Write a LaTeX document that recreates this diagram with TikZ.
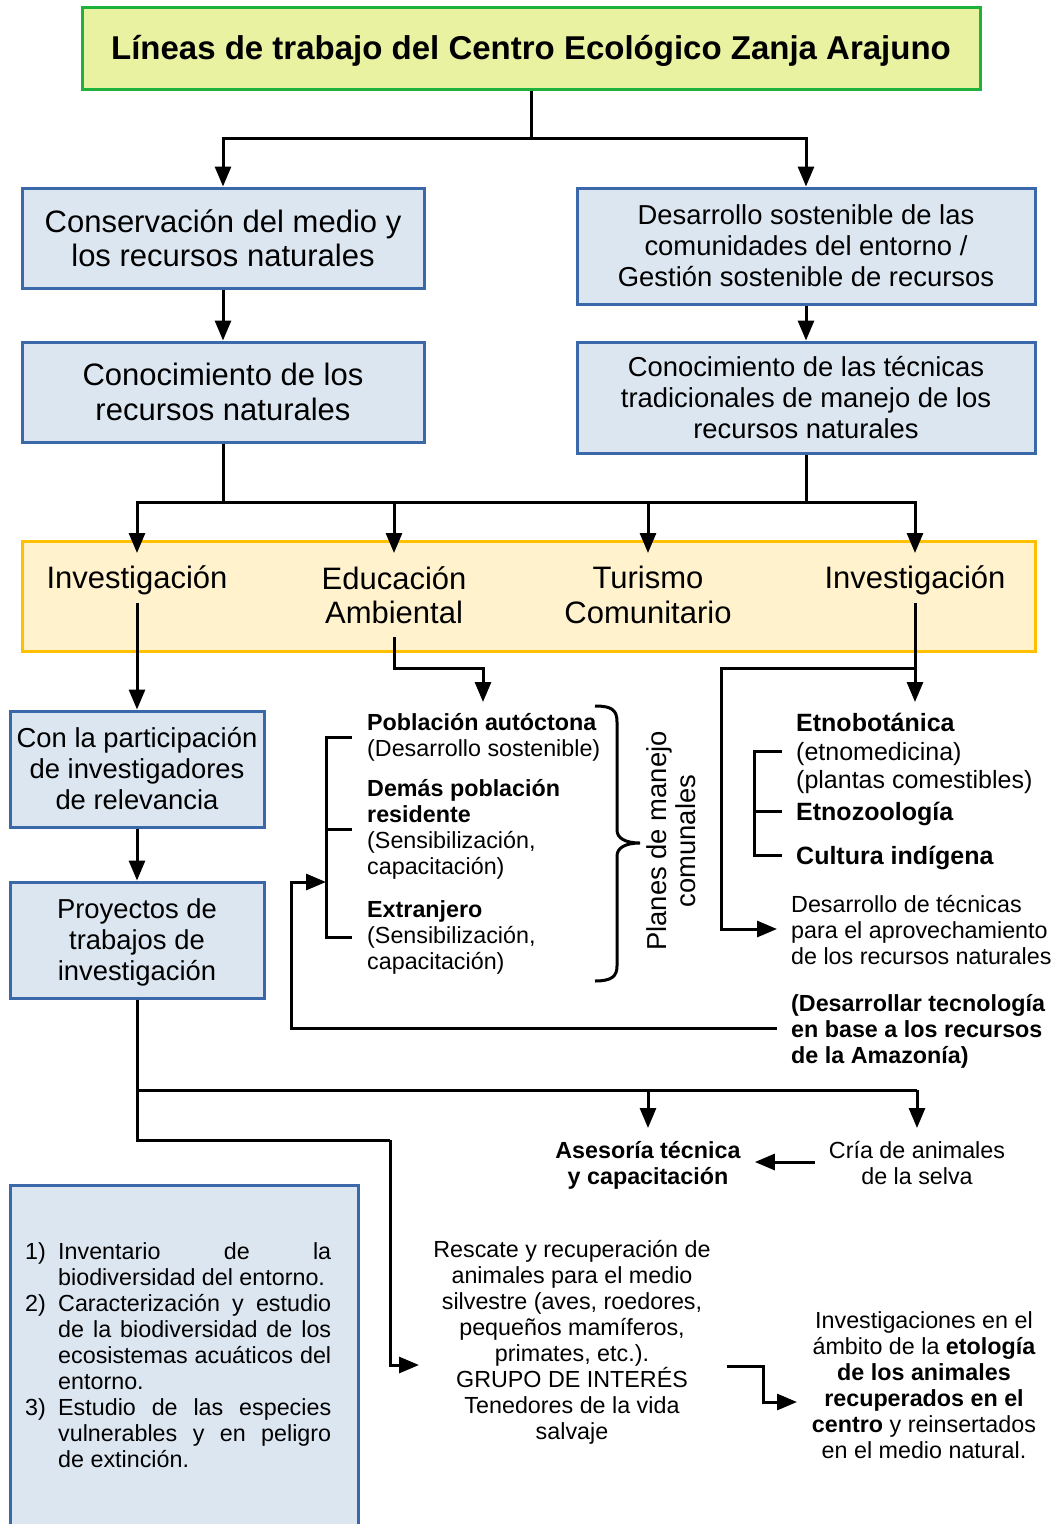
\documentclass[tikz,border=0pt]{standalone}
\usepackage{fontspec}
\setmainfont{Liberation Sans}
\usetikzlibrary{arrows.meta,calc}
\definecolor{tgreenf}{RGB}{232,242,161}
\definecolor{tgreenb}{RGB}{30,178,60}
\definecolor{bluef}{RGB}{220,230,241}
\definecolor{blueb}{RGB}{58,104,168}
\definecolor{yelf}{RGB}{255,242,204}
\definecolor{yelb}{RGB}{255,192,0}
\begin{document}
\begin{tikzpicture}[x=1pt,y=-1pt,
  conn/.style={line width=3pt},
  arr/.style={line width=3pt,-{Triangle[length=20pt,width=16pt]}},
  bluebox/.style={draw=blueb,fill=bluef,line width=3pt,inner sep=0pt,align=center},
  fL/.style={font=\fontsize{31}{34.5}\selectfont},
  fM/.style={font=\fontsize{27.4}{31}\selectfont},
  fR/.style={font=\fontsize{27.4}{29}\selectfont},
  fE/.style={font=\fontsize{25}{28.5}\selectfont},
  fS/.style={font=\fontsize{23.3}{26}\selectfont},
  txt/.style={inner sep=0pt},
  ltxt/.style={inner sep=0pt,align=left,anchor=west},
  ctxt/.style={inner sep=0pt,align=center}]
\useasboundingbox (0,0) rectangle (1055,1524);
\fill[white] (0,0) rectangle (1055,1524);
\clip (0,0) rectangle (1055,1524);

% boxes
\node[draw=tgreenb,fill=tgreenf,line width=3pt,inner sep=0pt,minimum width=898pt,minimum height=82pt,
  font=\fontsize{33}{38}\selectfont\bfseries] (title) at (531,48) {\raisebox{-3pt}[\height][\depth]{Líneas de trabajo del Centro Ecológico Zanja Arajuno}};
\node[bluebox,fL,minimum width=402pt,minimum height=100pt] (boxA) at (223,238) {Conservación del medio y\\los recursos naturales};
\node[bluebox,fM,minimum width=458pt,minimum height=116pt] (boxB) at (806,246) {Desarrollo sostenible de las\\comunidades del entorno /\\Gestión sostenible de recursos};
\node[bluebox,fL,minimum width=402pt,minimum height=100pt] (boxC) at (223,392) {Conocimiento de los\\recursos naturales};
\node[bluebox,fM,minimum width=458pt,minimum height=111pt] (boxD) at (806,397.5) {Conocimiento de las técnicas\\tradicionales de manejo de los\\recursos naturales};
\node[draw=yelb,fill=yelf,line width=3pt,inner sep=0pt,minimum width=1013pt,minimum height=110pt] (band) at (528.5,596) {};
\node[ctxt,fL] (inv1) at (137,580) {Investigación};
\node[ctxt,fL] (edu) at (394,595) {Educación\\Ambiental};
\node[ctxt,fL] (tur) at (648,595) {Turismo\\Comunitario};
\node[ctxt,fL] (inv2) at (915,580) {Investigación};
\node[bluebox,fM,minimum width=254pt,minimum height=116pt] (boxE) at (137,769) {Con la participación\\de investigadores\\de relevancia};
\node[bluebox,fM,minimum width=254pt,minimum height=116pt] (boxF) at (137,940) {\raisebox{-3pt}[\height][\depth]{\begin{tabular}{@{}c@{}}Proyectos de\\trabajos de\\investigación\end{tabular}}};

% poblacion
\node[ltxt,fS] (p1) at (367,737.5) {\textbf{Población autóctona}\\(Desarrollo sostenible)};
\node[ltxt,fS] (p2) at (367,829.5) {\textbf{Demás población}\\\textbf{residente}\\(Sensibilización,\\capacitación)};
\node[ltxt,fS] (p3) at (367,937.5) {\textbf{Extranjero}\\(Sensibilización,\\capacitación)};
\node[ctxt,fR,rotate=90] (planes) at (671.5,841) {Planes de manejo\\comunales};

% etno
\node[ltxt,fE] (e1) at (796,753.5) {\textbf{Etnobotánica}\\(etnomedicina)\\(plantas comestibles)};
\node[ltxt,fE] (e2) at (796,813.5) {\textbf{Etnozoología}};
\node[ltxt,fE] (e3) at (796,857.5) {\textbf{Cultura indígena}};
\node[ltxt,fS] (dtec) at (791,930.5) {Desarrollo de técnicas\\para el aprovechamiento\\de los recursos naturales};
\node[ltxt,fS] (tecno) at (791,1031) {\textbf{(Desarrollar tecnología}\\\textbf{en base a los recursos}\\\textbf{de la Amazonía)}};

% bottom
\node[ctxt,fS] (ases) at (648,1165) {\textbf{Asesoría técnica}\\\textbf{y capacitación}};
\node[ctxt,fS] (cria) at (917,1163.5) {Cría de animales\\de la selva};
\node[ctxt,fS] (resc) at (572,1342.5) {Rescate y recuperación de\\animales para el medio\\silvestre (aves, roedores,\\pequeños mamíferos,\\primates, etc.).\\GRUPO DE INTERÉS\\Tenedores de la vida\\salvaje};
\node[ctxt,fS] (etol) at (924,1385.5) {Investigaciones en el\\ámbito de la \textbf{etología}\\\textbf{de los animales}\\\textbf{recuperados en el}\\\textbf{centro} y reinsertados\\en el medio natural.};
\node[draw=blueb,fill=bluef,line width=3pt,inner sep=0pt,minimum width=348pt,minimum height=355pt] (boxG) at (184,1362.5) {};
\node[txt,fS,anchor=west] (list) at (25,1358.5) {\begin{tabular}{@{}p{22pt}@{\hspace{11pt}}l@{}}
1) & \makebox[273pt][s]{Inventario de la}\\
 & biodiversidad del entorno.\\
2) & \makebox[273pt][s]{Caracterización y estudio}\\
 & \makebox[273pt][s]{de la biodiversidad de los}\\
 & \makebox[273pt][s]{ecosistemas acuáticos del}\\
 & entorno.\\
3) & \makebox[273pt][s]{Estudio de las especies}\\
 & \makebox[273pt][s]{vulnerables y en peligro}\\
 & de extinción.
\end{tabular}};

% coordinates
\coordinate (h1) at (0,138);
\coordinate (hub) at (0,502);
\coordinate (tip1) at (0,553);
\coordinate (l1) at (0,603);
\coordinate (l2) at (0,637);
\coordinate (k1) at (0,668);
\coordinate (tipP) at (483,702);
\coordinate (tipE) at (915,702);
\coordinate (brx) at (326,882);
\coordinate (h2) at (0,1090);
\coordinate (t2) at (0,1128);
\coordinate (h3) at (390,1140);
\coordinate (rtip) at (419,1365);
\coordinate (ra) at (727,1366);
\coordinate (rb) at (763,1402);
\coordinate (rtip2) at (797,1402);

% connectors
\draw[arr] (title.south) |- (boxA.north |- h1) -- (boxA.north);
\draw[arr] (title.south) |- (boxB.north |- h1) -- (boxB.north);
\draw[arr] (boxA) -- (boxC);
\draw[arr] (boxB) -- (boxD);
\draw[conn] (boxC.south) -- (boxC.south |- hub);
\draw[conn] (boxD.south) -- (boxD.south |- hub);
\draw[conn] ([xshift=-1.5pt]inv1.north |- hub) -- ([xshift=1.5pt]inv2.north |- hub);
\foreach \n in {inv1,edu,tur,inv2} \draw[arr] (\n.north |- hub) -- (\n.north |- tip1);
\draw[arr] (inv1.north |- l1) -- (boxE.north);
\draw[arr] (boxE) -- (boxF);
\draw[arr] (edu.north |- l2) |- (tipP |- k1) -- (tipP);
\draw[arr] (inv2.north |- l1) -- (tipE);
\draw[arr] (inv2.north |- k1) -| (721,929) -- ([xshift=-14pt]dtec.west |- 0,929);
% poblacion bracket
\draw[conn] ([xshift=-15pt]p1.west) -- (brx |- p1.west) -- (brx |- p3.west) -- ([xshift=-15pt]p3.west);
\draw[conn] (brx |- p2.west) -- ([xshift=-15pt]p2.west);
\draw[arr] ([xshift=-14pt]tecno.west |- 0,1028) -| (291,882) -- (brx);
% etno bracket
\draw[conn] ([xshift=-14pt]e1.west |- 0,751) -- (754,751) -- (754,855) -- ([xshift=-14pt]e3.west |- 0,855);
\draw[conn] (754,811) -- ([xshift=-14pt]e2.west |- 0,811);
% brace
\draw[line width=3pt] (595,706) .. controls (612,706) and (617,710) .. (617,722) -- (617,830)
  .. controls (617,838) and (625,843) .. (640,843) .. controls (625,843) and (617,848) .. (617,856)
  -- (617,966) .. controls (617,976) and (612,981) .. (595,981);
% bottom
\draw[conn] (boxF.south) |- (h3);
\draw[arr] (h3) |- (rtip);
\draw[conn] (boxF.south |- h2) -- (cria.north |- h2);
\draw[arr] (ases.north |- h2) -- (ases.north |- t2);
\draw[arr] (cria.north |- h2) -- (cria.north |- t2);
\draw[arr] ([xshift=-14pt]cria.west |- 0,1162) -- ([xshift=14pt]ases.east |- 0,1162);
\draw[arr] (ra) -| (rb) -- (rtip2);
\end{tikzpicture}
\end{document}
